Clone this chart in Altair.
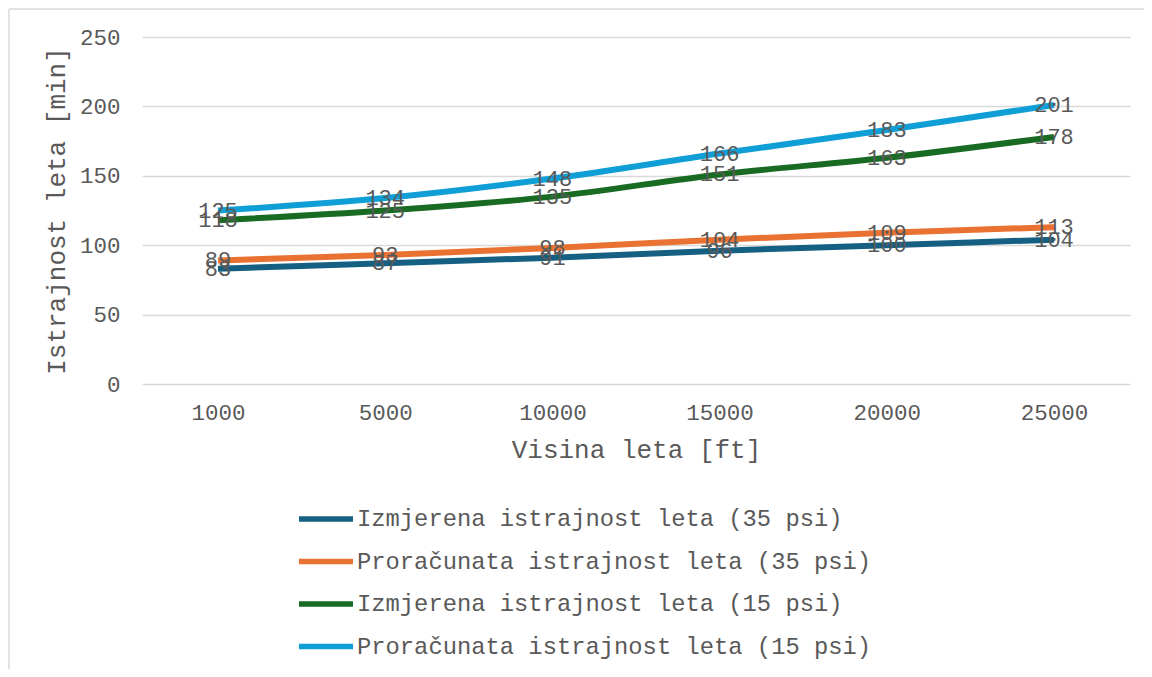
import altair as alt
import pandas as pd

altitudes = ["1000", "5000", "10000", "15000", "20000", "25000"]
series_names = [
    "Izmjerena istrajnost leta (35 psi)",
    "Proračunata istrajnost leta (35 psi)",
    "Izmjerena istrajnost leta (15 psi)",
    "Proračunata istrajnost leta (15 psi)",
]
izmjerena_35 = [83, 87, 91, 96, 100, 104]
proracunata_35 = [89, 93, 98, 104, 109, 113]
izmjerena_15 = [118, 125, 135, 151, 163, 178]
proracunata_15 = [125, 134, 148, 166, 183, 201]
colors = ["#156082", "#E97132", "#196B24", "#0F9ED5"]

rows = []
for name, vals in zip(series_names, [izmjerena_35, proracunata_35, izmjerena_15, proracunata_15]):
    for a, v in zip(altitudes, vals):
        rows.append({"alt": a, "val": v, "series": name})
df = pd.DataFrame(rows)

FONT = "Liberation Mono"
GRAY = "#595959"

x_enc = alt.X("alt:N", sort=altitudes,
              scale=alt.Scale(type="point", padding=0.4545),
              axis=alt.Axis(title="Visina leta [ft]", labelAngle=0, ticks=False, domain=False,
                            grid=False, labelPadding=17, titlePadding=13,
                            labelFontSize=22.5, titleFontSize=26, labelFont=FONT, titleFont=FONT,
                            labelColor=GRAY, titleColor=GRAY, titleFontWeight="normal"))
y_enc = alt.Y("val:Q", scale=alt.Scale(domain=[0, 250], nice=False),
              axis=alt.Axis(title="Istrajnost leta [min]", values=[0, 50, 100, 150, 200, 250],
                            ticks=False, domain=False, grid=True, gridColor="#D9D9D9", gridWidth=1.5,
                            labelPadding=22, titlePadding=10,
                            labelFontSize=22.5, titleFontSize=26, labelFont=FONT, titleFont=FONT,
                            labelColor=GRAY, titleColor=GRAY, titleFontWeight="normal"))

color_enc = alt.Color("series:N", sort=series_names,
                      scale=alt.Scale(domain=series_names, range=colors),
                      legend=alt.Legend(title=None, orient="none", legendX=154, legendY=452,
                                        direction="vertical", symbolType="stroke",
                                        symbolSize=2916, symbolStrokeWidth=5.5,
                                        labelFont=FONT, labelFontSize=23.8, labelColor=GRAY,
                                        rowPadding=0.5, labelOffset=1, labelLimit=1000))

lines = alt.Chart(df).mark_line(strokeWidth=6, interpolate="monotone").encode(
    x=x_enc, y=y_enc, color=color_enc, detail="series:N"
)
labels = alt.Chart(df).mark_text(font=FONT, fontSize=22, color=GRAY, align="center",
                                 baseline="middle").encode(
    x=alt.X("alt:N", sort=altitudes), y="val:Q", text="val:Q"
)
frame = pd.DataFrame({"a": [0]})
border_top = alt.Chart(frame).mark_rule(stroke="#D9D9D9", strokeWidth=1.5, clip=False).encode(
    x=alt.value(-133), x2=alt.value(1030), y=alt.value(-28)
)
border_left = alt.Chart(frame).mark_rule(stroke="#D9D9D9", strokeWidth=1.5, clip=False).encode(
    x=alt.value(-133), y=alt.value(-28), y2=alt.value(660)
)

chart = alt.layer(border_top, border_left, lines, labels).properties(
    width=988, height=347,
    autosize=alt.AutoSizeParams(type="none"),
    padding={"left": 134, "top": 29, "right": 14, "bottom": 285},
).configure_view(stroke=None)

chart.save("out.html", embed_options={"renderer": "svg", "actions": False})
